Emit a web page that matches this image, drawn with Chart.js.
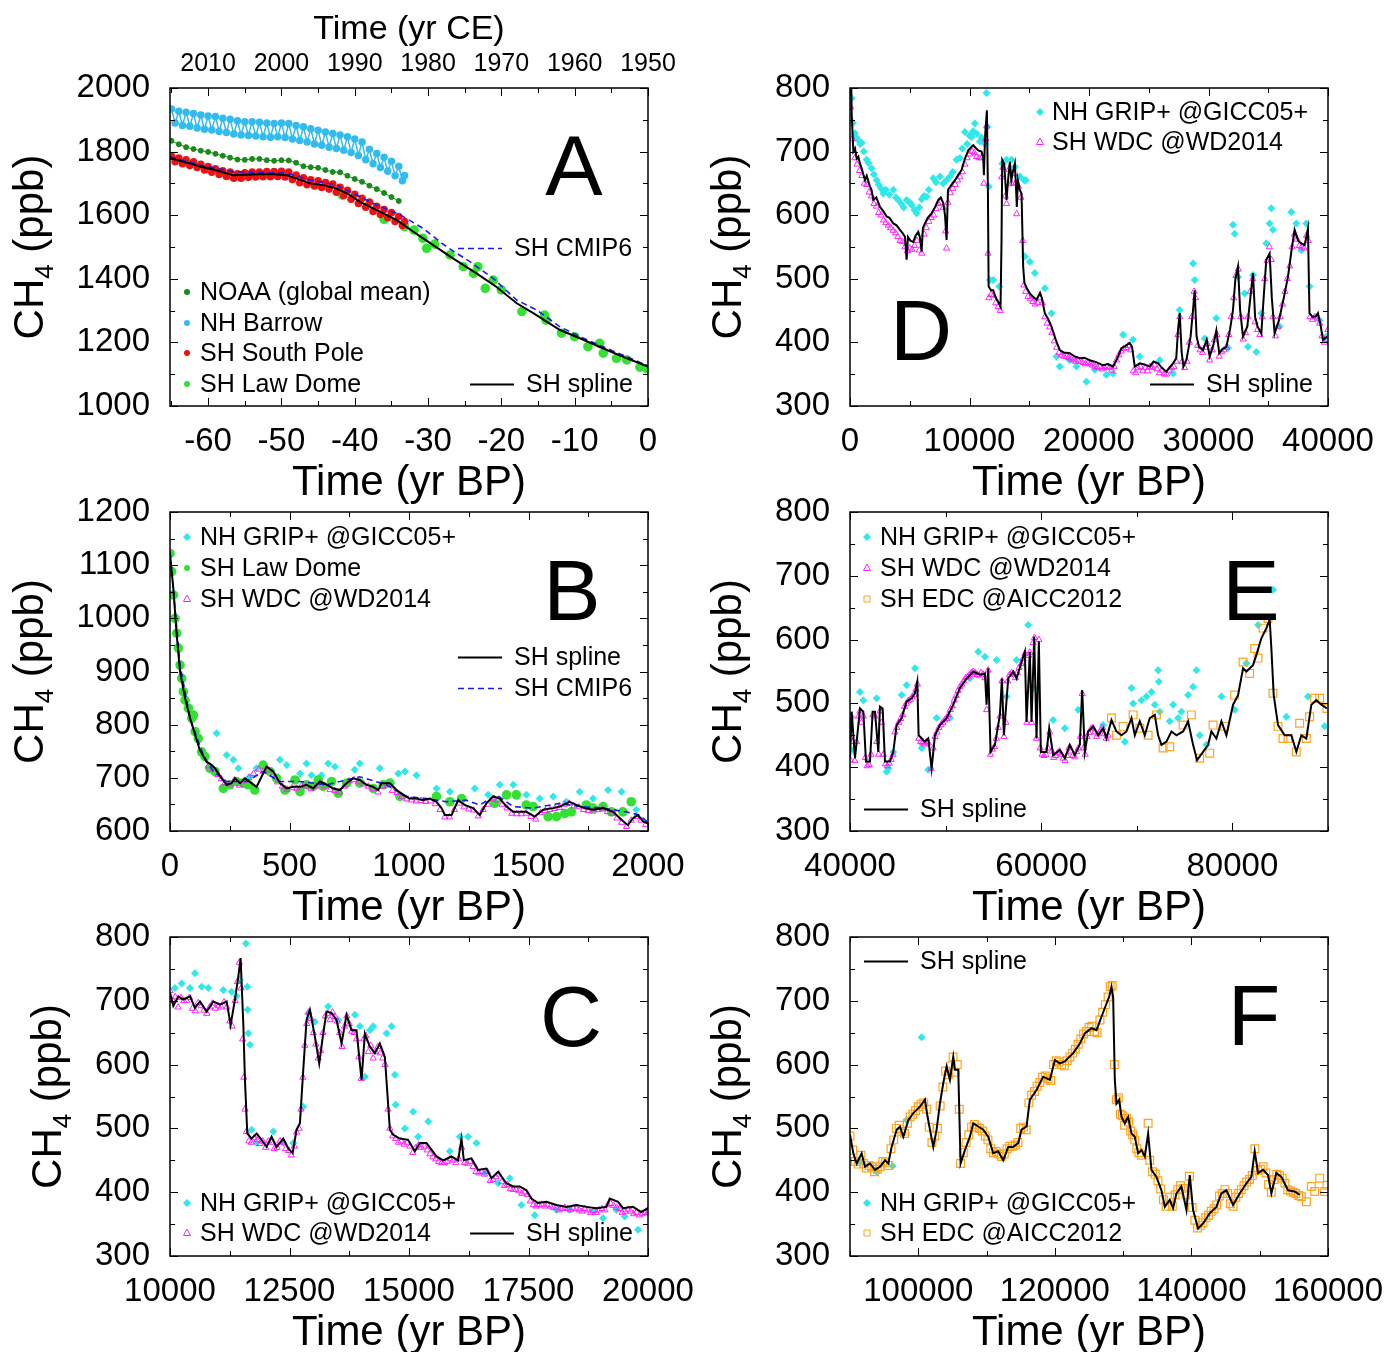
<!DOCTYPE html>
<html>
<head>
<meta charset="utf-8">
<script src="https://cdn.jsdelivr.net/npm/chart.js@4.4.0/dist/chart.umd.min.js"></script>
<style>
  html, body { margin: 0; padding: 0; background: #fff; }
  #page { position: relative; width: 1386px; height: 1352px; overflow: hidden; background: #fff; }
</style>
</head>
<body>
<div id="page"></div>
<script>
// ---- PANEL A (recent, yr BP, negative = after 1950) ----
const aNoaa = [[-34,1645],[-35,1657],[-36,1670],[-37,1682],[-38,1693],[-39,1705],[-40,1714],[-41,1724],[-42,1735],[-43,1736],[-44,1742],[-45,1749],[-46,1751],[-47,1754],[-48,1765],[-49,1772],[-50,1773],[-51,1771],[-52,1773],[-53,1777],[-54,1777],[-55,1774],[-56,1775],[-57,1781],[-58,1787],[-59,1793],[-60,1799],[-61,1803],[-62,1808],[-63,1814],[-64,1823],[-65,1834]];
const aBarrow = [[-65,1934],[-64.5,1890],[-64,1927],[-63.5,1882],[-63,1924],[-62.5,1880],[-62,1920],[-61.5,1874],[-61,1915],[-60.5,1870],[-60,1912],[-59.5,1868],[-59,1910],[-58.5,1863],[-58,1905],[-57.5,1860],[-57,1902],[-56.5,1855],[-56,1897],[-55.5,1852],[-55,1894],[-54.5,1851],[-54,1894],[-53.5,1849],[-53,1892],[-52.5,1847],[-52,1890],[-51.5,1845],[-51,1888],[-50.5,1847],[-50,1890],[-49.5,1844],[-49,1888],[-48.5,1840],[-48,1882],[-47.5,1835],[-47,1878],[-46.5,1830],[-46,1872],[-45.5,1824],[-45,1867],[-44.5,1820],[-44,1862],[-43.5,1814],[-43,1857],[-42.5,1810],[-42,1852],[-41.5,1804],[-41,1847],[-40.5,1797],[-40,1840],[-39.5,1788],[-39,1830],[-38.5,1774],[-38,1807],[-37.5,1762],[-37,1794],[-36.5,1750],[-36,1782],[-35.5,1738],[-35,1770],[-34.5,1724],[-34,1754],[-33.5,1708],[-33.2,1725]];
const aSouthPole = [[-65,1786],[-64.5,1768],[-64,1780],[-63.5,1762],[-63,1774],[-62.5,1756],[-62,1768],[-61.5,1750],[-61,1760],[-60.5,1742],[-60,1753],[-59.5,1735],[-59,1746],[-58.5,1728],[-58,1740],[-57.5,1722],[-57,1736],[-56.5,1716],[-56,1730],[-55.5,1716],[-55,1733],[-54.5,1719],[-54,1736],[-53.5,1720],[-53,1736],[-52.5,1721],[-52,1737],[-51.5,1721],[-51,1737],[-50.5,1722],[-50,1738],[-49.5,1720],[-49,1736],[-48.5,1712],[-48,1726],[-47.5,1702],[-47,1718],[-46.5,1696],[-46,1711],[-45.5,1692],[-45,1708],[-44.5,1687],[-44,1703],[-43.5,1682],[-43,1698],[-42.5,1672],[-42,1688],[-41.5,1662],[-41,1678],[-40.5,1650],[-40,1666],[-39.5,1637],[-39,1653],[-38.5,1625],[-38,1641],[-37.5,1612],[-37,1628],[-36.5,1602],[-36,1618],[-35.5,1592],[-35,1608],[-34.5,1580],[-34,1596],[-33.5,1568],[-33.2,1580]];
const aLawDome = [[-41.7,1663],[-36.0,1587],[-33.2,1564],[-31.9,1553],[-30.7,1527],[-30.2,1496],[-29.1,1509],[-27.0,1475],[-25.2,1438],[-23.8,1417],[-23.2,1438],[-22.2,1370],[-21.1,1396],[-20.0,1365],[-17.2,1297],[-14.1,1286],[-13.9,1270],[-11.8,1229],[-10.0,1218],[-8.2,1187],[-6.6,1197],[-6.1,1166],[-4.3,1150],[-2.9,1145],[-1.1,1122],[-0.1,1117]];
const aSpline = [[-65.2,1779],[-63,1766],[-61.1,1753],[-59,1742],[-56.6,1726],[-55,1727],[-52.9,1729],[-51,1729],[-49.3,1726],[-47.5,1712],[-46.1,1700],[-44,1693],[-42.5,1684],[-41,1668],[-39.3,1643],[-37,1616],[-34.3,1585],[-32,1548],[-29.3,1506],[-26.6,1464],[-23.4,1417],[-20.7,1375],[-17.9,1323],[-15.6,1291],[-12,1239],[-9.3,1213],[-5.6,1176],[-2.9,1150],[0,1124]];
const aCmip6 = [[-65.2,1784],[-61.1,1758],[-56.6,1737],[-49.3,1732],[-46.1,1711],[-42.5,1695],[-37,1632],[-33.8,1601],[-30.7,1559],[-27.5,1501],[-24.3,1454],[-21.1,1401],[-17.9,1333],[-15.2,1302],[-12,1249],[-9.3,1218],[-5.6,1181],[-2.9,1155],[0,1126]];

// ---- PANEL B (0-2000 yr BP) ----
const bSpline = [[0,1122],[14,1056],[28,969],[42,900],[63,850],[84,812],[105,781],[125,752],[153,730],[167,727],[188,718],[216,699],[237,687],[258,690],[272,699],[293,690],[314,699],[341,690],[362,683],[383,702],[404,721],[432,712],[460,690],[488,680],[516,683],[544,683],[571,687],[599,680],[627,693],[655,687],[683,680],[711,677],[739,690],[766,699],[794,696],[822,687],[850,683],[871,677],[885,690],[920,690],[948,677],[976,668],[1003,661],[1031,661],[1059,658],[1087,661],[1115,655],[1136,643],[1150,630],[1178,630],[1206,658],[1233,649],[1268,643],[1296,630],[1324,652],[1352,665],[1380,661],[1408,646],[1436,636],[1463,636],[1491,636],[1526,627],[1561,640],[1603,643],[1631,646],[1672,655],[1700,649],[1735,643],[1770,640],[1812,643],[1854,636],[1889,621],[1916,611],[1937,624],[1958,630],[1979,618],[2000,614]];
const bCmip6 = [[0,1125],[42,912],[84,812],[139,743],[181,712],[237,693],[321,693],[390,712],[460,693],[544,693],[655,687],[794,702],[906,687],[990,665],[1073,661],[1157,655],[1240,658],[1296,649],[1366,668],[1436,646],[1519,643],[1631,652],[1714,646],[1812,643],[1909,636],[1965,630],[2000,616]];
const bLawDome = [[0,1122],[7,1088],[14,1044],[21,1000],[28,972],[35,944],[42,912],[49,887],[56,862],[63,846],[77,831],[91,812],[98,818],[105,787],[118,774],[132,749],[146,740],[167,718],[188,712],[223,680],[251,687],[279,693],[307,690],[328,687],[355,677],[390,724],[418,712],[446,699],[481,677],[523,696],[544,674],[571,687],[599,684],[620,696],[641,684],[676,693],[704,671],[739,690],[794,690],[850,680],[892,687],[920,690],[962,665],[1115,665],[1171,655],[1220,661],[1359,652],[1408,668],[1449,668],[1491,649],[1519,646],[1582,627],[1617,627],[1652,633],[1679,636],[1742,649],[1770,643],[1812,646],[1847,636],[1895,636],[1930,655]];
const bGrip = [[195,784],[237,743],[265,734],[286,718],[334,702],[362,718],[460,734],[488,724],[544,708],[571,727],[592,705],[634,705],[662,727],[690,721],[773,715],[794,727],[878,718],[955,708],[983,712],[1031,705],[1115,680],[1171,674],[1275,680],[1331,668],[1380,687],[1436,687],[1491,668],[1547,661],[1603,665],[1658,655],[1714,674],[1770,661],[1833,677],[1889,674],[1951,640]];
const bWdc = [[160,722],[180,716],[200,706],[215,698],[230,690],[250,688],[270,696],[290,686],[310,694],[330,700],[350,708],[370,716],[390,712],[410,715],[430,706],[450,692],[470,684],[490,678],[510,681],[530,680],[550,685],[570,684],[590,679],[610,684],[630,690],[650,684],[670,678],[690,676],[710,673],[730,684],[750,694],[770,696],[790,692],[810,688],[830,684],[850,679],[870,673],[890,684],[910,686],[930,676],[950,672],[970,664],[990,660],[1010,658],[1030,656],[1050,657],[1070,655],[1090,656],[1110,651],[1130,640],[1150,626],[1170,626],[1190,640],[1210,652],[1230,645],[1250,641],[1270,639],[1290,628],[1310,640],[1330,650],[1350,660],[1370,658],[1390,650],[1410,643],[1430,633],[1450,632],[1470,632],[1490,633],[1510,627],[1530,622],[1550,634],[1570,638],[1590,640],[1610,642],[1630,644],[1650,650],[1670,652],[1690,647],[1710,645],[1730,640],[1750,638],[1770,637],[1790,640],[1810,641],[1830,636],[1850,633],[1870,624],[1890,616],[1910,608],[1930,620],[1950,627],[1970,620],[1990,612]];

// ---- PANEL C (10000-20000 yr BP) ----
const cSpline = [[10000,713],[10070,692],[10174,707],[10279,702],[10418,707],[10523,689],[10627,699],[10767,683],[10906,699],[11045,694],[11185,699],[11268,662],[11359,702],[11429,738],[11477,767],[11533,665],[11568,576],[11617,492],[11707,484],[11812,492],[11916,482],[12021,471],[12125,487],[12230,471],[12369,484],[12474,469],[12565,461],[12648,498],[12718,508],[12788,592],[12857,670],[12927,686],[13031,644],[13122,602],[13206,649],[13275,683],[13380,681],[13484,670],[13589,633],[13693,678],[13798,654],[13902,654],[14007,576],[14077,649],[14181,628],[14286,618],[14390,633],[14495,612],[14600,498],[14669,490],[14809,484],[14983,482],[15122,464],[15227,477],[15366,477],[15575,456],[15715,450],[15889,456],[16028,450],[16098,484],[16147,450],[16307,453],[16446,435],[16620,437],[16725,422],[16864,432],[17038,414],[17178,409],[17317,409],[17457,403],[17561,390],[17701,383],[17875,385],[18084,380],[18293,377],[18502,380],[18711,377],[18920,375],[19129,377],[19199,390],[19373,385],[19478,375],[19687,377],[19861,369],[20000,375]];
const cGrip = [[10105,720],[10244,727],[10418,720],[10523,743],[10662,722],[10801,720],[11115,717],[11289,714],[11394,707],[11463,733],[11589,790],[11617,722],[11624,686],[11638,649],[11673,631],[11707,498],[11812,477],[12160,495],[12369,477],[12579,477],[12788,534],[12892,680],[13031,667],[13310,691],[13519,670],[13868,678],[13972,660],[14077,581],[14181,654],[14251,660],[14530,649],[14635,660],[14704,584],[14720,537],[14913,500],[15087,526],[15192,487],[15401,511],[15854,464],[16063,487],[16237,487],[16411,477],[16586,430],[16864,414],[17108,422],[17352,380],[17631,364],[18084,372],[18363,372],[18851,369],[19060,359],[19339,372],[19513,362],[19792,341],[19999,372]];
const cWdc = [[10000,716],[10060,700],[10110,706],[10170,690],[10230,705],[10290,700],[10350,700],[10410,705],[10470,688],[10530,684],[10590,697],[10650,692],[10710,685],[10770,680],[10830,690],[10890,696],[10950,688],[11010,692],[11070,690],[11130,698],[11190,690],[11250,668],[11300,660],[11360,700],[11410,730],[11450,760],[11490,720],[11520,640],[11545,580],[11570,530],[11600,495],[11650,480],[11700,478],[11760,485],[11820,482],[11880,476],[11940,480],[12000,470],[12060,480],[12120,478],[12180,468],[12240,470],[12300,480],[12360,478],[12420,468],[12480,465],[12540,458],[12600,472],[12650,494],[12700,500],[12740,530],[12780,580],[12820,630],[12860,664],[12900,682],[12950,672],[13000,650],[13050,632],[13100,610],[13150,622],[13200,650],[13250,676],[13300,680],[13350,670],[13400,682],[13450,675],[13500,668],[13550,650],[13600,628],[13650,660],[13700,676],[13750,664],[13800,652],[13850,650],[13900,640],[13950,612],[14000,578],[14050,640],[14100,645],[14150,620],[14200,630],[14250,610],[14300,620],[14350,628],[14400,618],[14450,610],[14500,600],[14560,530],[14600,500],[14660,488],[14720,484],[14780,478],[14840,480],[14900,475],[14960,478],[15020,472],[15080,462],[15140,470],[15200,474],[15260,470],[15320,472],[15380,466],[15440,460],[15500,455],[15560,452],[15620,448],[15680,446],[15740,446],[15800,448],[15860,452],[15920,450],[15980,446],[16040,452],[16100,470],[16160,446],[16220,445],[16280,448],[16340,440],[16400,432],[16460,430],[16520,432],[16580,428],[16640,432],[16700,418],[16760,420],[16820,424],[16880,428],[16940,416],[17000,410],[17060,412],[17120,405],[17180,404],[17240,404],[17300,402],[17360,398],[17420,400],[17480,396],[17540,386],[17600,380],[17660,378],[17720,380],[17780,381],[17840,378],[17900,380],[17960,378],[18020,376],[18080,376],[18140,372],[18200,374],[18260,376],[18320,374],[18380,372],[18440,375],[18500,374],[18560,372],[18620,370],[18680,374],[18740,372],[18800,368],[18860,371],[18920,368],[18980,372],[19040,374],[19100,372],[19160,380],[19220,382],[19280,379],[19340,376],[19400,374],[19460,368],[19520,370],[19580,373],[19640,370],[19700,366],[19760,368],[19820,364],[19880,366],[19940,368],[20000,369]];

// ---- PANEL D (0-40000 yr BP) ----
const dSpline = [[0,1120],[40,980],[80,860],[140,760],[280,700],[420,705],[560,689],[700,692],[836,681],[1000,672],[1254,655],[1400,662],[1672,645],[1800,640],[1950,624],[2200,628],[2508,613],[2800,606],[3066,598],[3300,596],[3623,587],[3900,584],[4180,577],[4400,572],[4600,566],[4738,530],[4850,566],[5050,560],[5295,558],[5500,568],[5713,574],[5850,565],[5992,543],[6100,580],[6271,587],[6500,596],[6828,603],[7100,612],[7386,624],[7600,628],[7804,619],[7950,600],[8082,561],[8200,640],[8500,648],[8779,655],[9050,663],[9336,671],[9600,688],[9894,702],[10100,706],[10312,710],[10500,706],[10730,702],[11009,700],[11150,690],[11204,663],[11300,723],[11455,765],[11540,640],[11600,488],[11800,482],[11984,482],[12200,470],[12402,464],[12597,456],[12680,560],[12737,687],[12900,681],[13100,624],[13250,660],[13378,684],[13500,655],[13650,670],[13796,681],[13900,640],[13960,613],[14050,655],[14200,640],[14353,634],[14420,580],[14492,519],[14600,493],[14800,485],[15050,477],[15300,472],[15607,467],[15900,478],[16050,470],[16304,446],[16600,436],[16861,425],[17200,405],[17558,388],[17900,384],[18394,383],[18800,378],[19230,375],[19600,376],[20066,372],[20600,369],[21181,364],[21600,366],[22017,362],[22400,376],[22714,391],[23100,395],[23411,399],[23600,393],[23829,362],[24247,367],[24700,365],[25083,362],[25400,370],[25780,367],[26100,360],[26477,354],[26800,362],[27034,367],[27300,375],[27450,420],[27591,446],[27750,385],[27900,362],[28149,372],[28500,409],[28700,450],[28846,482],[29000,410],[29200,393],[29542,388],[29850,404],[30100,378],[30400,395],[30657,419],[30900,383],[31200,390],[31493,393],[31800,420],[32050,451],[32250,500],[32468,519],[32650,450],[32886,409],[33250,425],[33500,470],[33722,509],[33900,440],[34100,425],[34419,414],[34650,480],[34837,530],[35116,540],[35300,470],[35534,414],[35900,435],[36300,470],[36649,503],[36950,545],[37206,577],[37500,560],[37750,556],[38043,553],[38322,579],[38450,446],[38700,440],[39000,441],[39158,446],[39400,425],[39576,404],[39910,409]];
const dGrip = [[139,784],[250,745],[418,729],[550,722],[697,718],[850,712],[976,714],[1150,700],[1394,687],[1550,682],[1812,674],[2000,664],[2230,655],[2400,648],[2600,642],[2787,634],[3000,640],[3300,632],[3623,640],[3850,628],[4041,624],[4300,618],[4500,612],[4738,624],[5000,620],[5156,616],[5400,608],[5574,603],[5800,612],[6000,625],[6200,630],[6410,629],[6600,640],[6967,658],[7200,652],[7525,661],[7800,650],[8082,655],[8361,661],[8600,668],[8918,687],[9200,690],[9400,705],[9615,731],[9800,712],[10000,725],[10173,723],[10300,732],[10451,744],[10600,728],[10869,716],[11000,722],[11148,718],[11300,712],[11427,792],[11483,739],[11622,645],[11705,498],[11984,498],[12486,488],[12737,681],[13100,687],[13517,687],[13796,676],[14214,661],[14576,655],[14715,655],[14632,535],[15050,527],[15468,509],[16304,485],[16861,446],[17279,378],[17558,362],[18394,372],[18951,362],[19787,338],[20484,357],[21460,349],[22017,351],[22853,412],[23689,404],[24247,378],[25919,372],[27034,351],[27591,451],[28706,524],[28846,498],[29682,406],[30657,438],[31632,391],[32050,585],[32189,571],[32468,503],[33025,477],[33304,393],[33722,506],[33999,385],[34419,446],[34837,556],[35116,587],[35255,611],[35395,577],[35952,425],[36928,605],[37346,587],[37764,545],[38183,587],[38461,488],[39297,435],[39855,409]];
const dWdc = [[50,770],[200,720],[400,690],[600,680],[800,670],[1000,662],[1200,650],[1400,648],[1600,636],[1800,630],[2000,618],[2200,614],[2400,604],[2600,600],[2800,592],[3000,588],[3200,584],[3400,580],[3600,576],[3800,572],[4000,566],[4200,560],[4400,558],[4600,550],[4800,544],[5000,548],[5200,546],[5400,552],[5600,560],[5800,545],[6000,540],[6200,570],[6400,580],[6600,590],[6800,596],[7000,600],[7200,610],[7400,618],[7600,620],[7800,612],[8000,575],[8080,548],[8200,620],[8400,635],[8600,642],[8800,648],[9000,655],[9200,660],[9400,668],[9600,680],[9800,690],[10000,696],[10200,700],[10400,698],[10600,692],[10800,690],[11000,690],[11200,650],[11350,720],[11450,740],[11550,540],[11620,470],[11800,475],[12000,474],[12200,462],[12400,456],[12580,450],[12700,660],[12800,675],[13000,630],[13100,618],[13300,672],[13500,650],[13700,665],[13850,650],[13950,602],[14100,645],[14300,628],[14450,560],[14550,490],[14700,480],[14900,472],[15100,468],[15300,464],[15500,460],[15700,462],[15900,470],[16100,462],[16300,440],[16500,430],[16700,424],[16900,415],[17100,402],[17300,392],[17500,384],[17700,380],[17900,378],[18100,378],[18300,376],[18500,374],[18700,372],[18900,370],[19100,372],[19300,370],[19500,368],[19700,366],[19900,368],[20100,366],[20300,364],[20500,362],[20700,360],[20900,362],[21100,358],[21300,360],[21500,362],[21700,360],[21900,356],[22100,362],[22300,372],[22500,380],[22700,386],[22900,390],[23100,392],[23300,395],[23500,388],[23700,355],[23900,352],[24100,360],[24300,362],[24500,355],[24700,360],[24900,355],[25100,362],[25300,360],[25500,364],[25700,358],[25900,352],[26100,356],[26300,350],[26500,350],[26700,356],[26900,360],[27100,362],[27300,370],[27450,412],[27600,440],[27800,370],[28000,360],[28200,370],[28400,400],[28600,440],[28800,480],[28900,470],[29100,395],[29300,388],[29500,384],[29700,392],[29900,398],[30100,372],[30300,388],[30500,404],[30700,412],[30900,378],[31100,385],[31300,388],[31500,392],[31700,412],[31900,440],[32100,470],[32300,505],[32500,515],[32700,440],[32900,405],[33100,415],[33300,440],[33500,480],[33700,500],[33900,432],[34100,420],[34300,412],[34500,440],[34700,500],[34900,528],[35100,550],[35250,530],[35400,440],[35600,410],[35800,425],[36000,440],[36200,460],[36400,480],[36600,500],[36800,520],[37000,550],[37200,570],[37400,562],[37600,552],[37800,550],[38000,548],[38200,568],[38350,560],[38500,440],[38700,436],[38900,440],[39100,438],[39300,430],[39500,410],[39700,400],[39900,404],[40000,420]];

// ---- PANEL E (40000-90000 yr BP) ----
const eSpline = [[40000,414],[40174,487],[40523,414],[41045,492],[41394,487],[41672,409],[42090,409],[42369,487],[42613,487],[42961,424],[43136,495],[43414,492],[43658,409],[44181,409],[44529,424],[44878,466],[45400,477],[45923,503],[46446,508],[46794,516],[47038,534],[47178,450],[47839,440],[48188,445],[48536,398],[48885,450],[49407,466],[50104,477],[50801,498],[51498,524],[52195,539],[52892,550],[53589,545],[54112,547],[54286,498],[54460,555],[54704,424],[55157,435],[55680,482],[55889,539],[56097,450],[56549,539],[57072,550],[57421,539],[57943,565],[58292,581],[58466,471],[58814,581],[58989,471],[59267,605],[59511,445],[59755,597],[59964,424],[60557,424],[60836,461],[61254,419],[61951,427],[62473,414],[62996,435],[63519,419],[64041,435],[64285,521],[64564,424],[64913,456],[65435,464],[65958,450],[66480,461],[66829,445],[67352,474],[67874,456],[68397,450],[68920,456],[69442,477],[69791,450],[70314,472],[70836,450],[71359,477],[71882,482],[72230,450],[72578,435],[73101,440],[73624,456],[74146,450],[74843,456],[75366,472],[75888,435],[76306,411],[76934,424],[77457,435],[77805,456],[78328,445],[78851,472],[79373,450],[80070,498],[80592,513],[81115,555],[81463,550],[82160,560],[82508,576],[83031,602],[83554,618],[83902,631],[84077,586],[84321,513],[84774,466],[85470,450],[86167,450],[86690,424],[87212,450],[87735,445],[88258,498],[88780,505],[89303,498],[89896,492]];
const eGrip = [[40348,427],[41045,518],[41394,505],[42788,508],[43833,393],[44007,398],[44529,424],[45400,513],[45923,529],[46794,555],[47491,430],[48188,396],[49059,477],[50452,477],[52544,539],[53415,581],[54112,573],[55331,568],[56375,511],[57421,568],[58640,623],[59162,524],[61254,474],[62473,461],[63868,490],[66480,466],[68745,440],[69442,524],[69617,500],[70488,505],[71010,511],[71533,518],[71882,498],[72230,552],[72300,534],[72404,487],[73449,472],[73798,498],[74320,477],[74669,487],[75366,513],[75888,526],[76236,552],[76585,450],[77282,435],[78851,511],[80244,490],[81463,563],[82683,623],[84251,678],[85645,479],[87909,511],[89652,464]];
const eWdc = [[40000,412],[40150,480],[40300,440],[40500,410],[40700,440],[40900,480],[41050,488],[41200,470],[41400,480],[41600,415],[41800,402],[42000,404],[42200,420],[42400,482],[42600,480],[42800,440],[43000,420],[43150,488],[43300,470],[43500,420],[43700,405],[43900,402],[44100,406],[44300,412],[44500,420],[44700,455],[44900,462],[45100,470],[45300,476],[45500,482],[45700,495],[45900,500],[46100,504],[46300,506],[46500,510],[46700,514],[46900,522],[47050,530],[47200,445],[47400,440],[47600,438],[47800,436],[48000,440],[48200,438],[48500,398],[48700,430],[48900,448],[49100,455],[49300,462],[49500,466],[49700,470],[49900,474],[50100,476],[50300,482],[50500,490],[50700,496],[50900,505],[51100,512],[51300,520],[51500,526],[51700,530],[51900,535],[52100,540],[52300,542],[52500,545],[52700,548],[52900,550],[53100,548],[53300,545],[53500,544],[53700,548],[53900,546],[54100,540],[54300,490],[54450,552],[54700,420],[54900,428],[55100,432],[55300,445],[55500,462],[55700,480],[55900,535],[56100,448],[56300,470],[56500,535],[56700,545],[56900,548],[57100,546],[57300,540],[57500,548],[57700,556],[57900,562],[58100,570],[58300,578],[58500,470],[58700,575],[58800,580],[59000,470],[59150,595],[59300,603],[59500,445],[59750,600],[59900,430],[60100,420],[60300,418],[60500,420],[60700,430],[60900,455],[61100,425],[61300,415],[61500,418],[61700,422],[61900,425],[62100,420],[62300,414],[62500,410],[62700,418],[62900,430],[63100,425],[63300,418],[63500,416],[63700,424],[63900,430],[64100,448],[64285,515],[64450,430],[64600,420],[64800,448],[65000,454],[65200,460],[65400,462],[65600,455],[65800,448],[66000,452],[66200,458],[66400,462],[66600,452],[66800,445],[67000,450]];
const eEdc = [[67349,477],[67872,450],[68569,464],[69614,482],[70311,461],[71182,450],[72053,482],[72750,430],[73446,432],[74840,466],[75711,482],[76582,414],[77627,422],[77976,466],[79195,464],[80240,513],[81111,565],[81808,547],[82331,586],[82679,571],[83202,618],[83724,633],[84247,516],[84770,464],[85292,445],[85815,445],[86686,424],[87034,469],[87730,445],[88079,479],[88602,508],[89124,508],[89891,492]];

// ---- PANEL F (90000-160000 yr BP) ----
const fSpline = [[90000,490],[90488,461],[90976,445],[91707,461],[92195,440],[92927,445],[93659,435],[94390,440],[95122,450],[95610,445],[96098,471],[96829,498],[97317,503],[97805,487],[98537,513],[99268,524],[100244,534],[100976,545],[101317,521],[101707,498],[102195,471],[102683,498],[103171,539],[103659,571],[104146,597],[104634,576],[105122,612],[105366,592],[105854,592],[106195,445],[106829,466],[107561,487],[108049,508],[108780,503],[109512,498],[110244,487],[110976,461],[111707,464],[112439,450],[113171,471],[113902,471],[114634,477],[115122,498],[115854,503],[116341,545],[117317,560],[117805,571],[118293,581],[119268,576],[120000,607],[120732,602],[121463,605],[122683,618],[123659,633],[124390,649],[125366,657],[126098,654],[126829,675],[127463,693],[127951,706],[128293,722],[128537,706],[128780,576],[129024,539],[129415,545],[129756,518],[130244,508],[130732,518],[131220,492],[131707,487],[132195,461],[132683,466],[133171,456],[133659,492],[134146,435],[134878,424],[135610,403],[136098,377],[136829,388],[137317,375],[137805,398],[138537,409],[139268,372],[139756,427],[140244,372],[140976,343],[141707,351],[142683,367],[143659,377],[144390,398],[145122,403],[146098,380],[147073,398],[148049,414],[148780,424],[149268,464],[149756,430],[150488,435],[151220,427],[151707,398],[152439,430],[153171,424],[154146,403],[155122,401],[155854,396]];
const fEdc = [[90000,488],[90400,466],[90800,448],[91200,444],[91600,458],[92000,445],[92400,438],[92800,442],[93200,440],[93600,432],[94000,436],[94400,440],[94800,448],[95200,446],[95600,442],[96000,468],[96400,482],[96800,500],[97200,505],[97600,495],[98000,492],[98400,508],[98800,518],[99200,522],[99600,528],[100000,534],[100400,538],[100800,540],[101200,530],[101600,502],[102000,478],[102400,488],[102800,500],[103200,535],[103600,565],[104000,590],[104400,584],[104800,598],[105100,612],[105400,588],[105700,600],[106000,530],[106200,445],[106600,462],[107000,478],[107400,490],[107800,502],[108200,506],[108600,502],[109000,500],[109400,496],[109800,488],[110200,482],[110600,468],[111000,462],[111400,464],[111800,460],[112200,456],[112600,460],[113000,468],[113400,472],[113800,472],[114200,474],[114600,478],[115000,500],[115400,502],[115800,498],[116200,540],[116600,552],[117000,558],[117400,566],[117800,572],[118200,580],[118600,582],[119000,578],[119400,575],[119800,600],[120200,606],[120600,604],[121000,600],[121400,598],[121800,606],[122200,612],[122600,618],[123000,624],[123400,632],[123800,640],[124200,648],[124600,652],[125000,658],[125400,660],[125800,652],[126200,650],[126600,670],[127000,682],[127400,694],[127800,706],[128100,722],[128400,724],[128700,600],[129000,545],[129300,548],[129600,522],[129900,520],[130200,505],[130500,516],[130800,510],[131100,496],[131400,490],[131700,482],[132000,468],[132300,462],[132700,458],[133660,508],[133900,450],[134300,432],[134700,428],[135100,418],[135500,405],[135900,388],[136300,378],[136800,392],[137200,378],[137600,396],[138000,404],[138400,410],[138800,406],[139200,396],[139700,425],[140100,376],[140500,356],[140900,344],[141300,348],[141700,352],[142100,360],[142500,364],[142900,370],[143300,374],[143700,380],[144100,394],[144500,398],[144900,404],[145300,398],[145700,382],[146100,378],[146500,392],[146900,398],[147300,404],[147700,410],[148100,416],[148500,420],[148900,426],[149300,468],[149700,434],[150100,436],[150500,440],[150900,430],[151300,412],[151700,400],[152100,420],[152500,428],[152900,426],[153300,422],[153700,414],[154100,404],[154500,402],[154900,400],[155300,398],[155700,395],[156100,393],[156830,385],[157560,409],[158050,401],[158780,422],[159510,401],[159850,411]];
const fGrip = [[91460,447],[93900,432],[96240,441],[98290,513],[100490,643]];

const FONT = '"Liberation Sans", Arial, Helvetica, sans-serif';

// dataset styles
const sty = {
  spline: { showLine: true, borderColor: '#000', borderWidth: 2, pointRadius: 0 },
  cmip6: { showLine: true, borderColor: '#1a1aee', borderWidth: 1.6, borderDash: [6, 4], pointRadius: 0 },
  grip: { pointStyle: 'rectRot', pointRadius: 4, backgroundColor: '#2ee8ea', borderWidth: 0 },
  wdc: { pointStyle: 'triangle', pointRadius: 3.6, backgroundColor: 'rgba(0,0,0,0)', borderColor: '#ff22ff', borderWidth: 1 },
  edc: { pointStyle: 'rect', pointRadius: 5.5, backgroundColor: 'rgba(0,0,0,0)', borderColor: '#ffa41c', borderWidth: 1.2 },
  law: { pointStyle: 'circle', pointRadius: 4.8, backgroundColor: '#33e033', borderWidth: 0 },
  noaa: { showLine: true, borderColor: '#1a8a1a', borderWidth: 1, pointRadius: 2.5, backgroundColor: '#1a8a1a' },
  barrow: { showLine: true, borderColor: '#33bbf0', borderWidth: 1.5, pointStyle: 'circle', pointRadius: 3, backgroundColor: '#33bbf0' },
  pole: { pointStyle: 'circle', pointRadius: 3.8, backgroundColor: '#ee1111', borderWidth: 0 }
};
const ds = (data, s) => Object.assign({ data: data, xAxisID: 'x', yAxisID: 'y' }, sty[s]);

function isMajor(v, major) {
  const r = v / major;
  return Math.abs(r - Math.round(r)) < 1e-6;
}

function drawMarker(ctx, shape, color, x, y) {
  ctx.save();
  ctx.beginPath();
  if (shape === 'circle') {
    ctx.arc(x, y, 3, 0, Math.PI * 2);
    ctx.fillStyle = color; ctx.fill();
  } else if (shape === 'diamond') {
    ctx.moveTo(x, y - 4); ctx.lineTo(x + 4, y); ctx.lineTo(x, y + 4); ctx.lineTo(x - 4, y); ctx.closePath();
    ctx.fillStyle = color; ctx.fill();
  } else if (shape === 'triangle') {
    ctx.moveTo(x, y - 4); ctx.lineTo(x + 3.5, y + 2.5); ctx.lineTo(x - 3.5, y + 2.5); ctx.closePath();
    ctx.strokeStyle = color; ctx.lineWidth = 1; ctx.stroke();
  } else if (shape === 'square') {
    ctx.rect(x - 3, y - 3, 6, 6);
    ctx.strokeStyle = color; ctx.lineWidth = 1; ctx.stroke();
  }
  ctx.restore();
}

// frame, inward ticks, titles, legend and panel letter
function deco(p) {
  return {
    id: 'deco',
    afterDraw(chart) {
      const { ctx, chartArea: a, scales } = chart;
      ctx.save();
      ctx.strokeStyle = '#000';
      ctx.lineWidth = 1;
      ctx.beginPath();
      scales.x.ticks.forEach(t => {
        const px = Math.round(scales.x.getPixelForValue(t.value)) + 0.5;
        const len = t.label ? 8 : 5;
        ctx.moveTo(px, a.bottom); ctx.lineTo(px, a.bottom - len);
        ctx.moveTo(px, a.top); ctx.lineTo(px, a.top + len);
      });
      scales.y.ticks.forEach(t => {
        const py = Math.round(scales.y.getPixelForValue(t.value)) + 0.5;
        const len = t.label ? 8 : 5;
        ctx.moveTo(a.left, py); ctx.lineTo(a.left + len, py);
        ctx.moveTo(a.right, py); ctx.lineTo(a.right - len, py);
      });
      ctx.stroke();
      ctx.lineWidth = 1.5;
      ctx.strokeRect(a.left, a.top, a.right - a.left, a.bottom - a.top);

      ctx.fillStyle = '#000';
      ctx.textBaseline = 'alphabetic';
      ctx.textAlign = 'center';
      ctx.font = '42px ' + FONT;
      ctx.fillText('Time (yr BP)', (a.left + a.right) / 2, a.bottom + 89);
      if (p.top) {
        ctx.font = '34px ' + FONT;
        ctx.fillText('Time (yr CE)', (a.left + a.right) / 2, a.top - 49);
      }

      // y title with subscript
      ctx.save();
      ctx.translate(a.left + p.yTitleDx, (a.top + a.bottom) / 2);
      ctx.rotate(-Math.PI / 2);
      ctx.textAlign = 'left';
      ctx.font = '42px ' + FONT;
      const w1 = ctx.measureText('CH').width;
      const w3 = ctx.measureText(' (ppb)').width;
      ctx.font = '26px ' + FONT;
      const w2 = ctx.measureText('4').width;
      const x0 = -(w1 + w2 + w3) / 2;
      ctx.font = '42px ' + FONT;
      ctx.fillText('CH', x0, 0);
      ctx.font = '26px ' + FONT;
      ctx.fillText('4', x0 + w1, 10);
      ctx.font = '42px ' + FONT;
      ctx.fillText(' (ppb)', x0 + w1 + w2, 0);
      ctx.restore();

      // panel letter
      ctx.font = '86px ' + FONT;
      ctx.textAlign = 'center';
      ctx.fillText(p.letter[0], a.left + p.letter[1], a.top + p.letter[2]);

      // legend
      ctx.font = '25px ' + FONT;
      ctx.textAlign = 'left';
      ctx.textBaseline = 'middle';
      p.legend.forEach(it => {
        if (it.shape) {
          drawMarker(ctx, it.shape, it.color, a.left + it.x, a.top + it.y);
        } else {
          ctx.save();
          ctx.beginPath();
          ctx.strokeStyle = it.color;
          ctx.lineWidth = it.dash ? 1.6 : 2;
          ctx.setLineDash(it.dash || []);
          ctx.moveTo(a.left + it.x1, a.top + it.y + 0.5);
          ctx.lineTo(a.left + it.x2, a.top + it.y + 0.5);
          ctx.stroke();
          ctx.restore();
        }
        ctx.fillStyle = '#000';
        ctx.fillText(it.text, a.left + it.tx, a.top + it.y + 1);
      });
      ctx.restore();
    }
  };
}

function buildPanel(p) {
  const [cl, ct, cw, ch] = p.box;
  const [pl, pt, pr, pb] = p.area;
  const cv = document.createElement('canvas');
  cv.width = cw; cv.height = ch;
  cv.style.cssText = 'position:absolute;left:' + cl + 'px;top:' + ct + 'px;width:' + cw + 'px;height:' + ch + 'px';
  document.getElementById('page').appendChild(cv);

  const tickFont = { family: FONT, size: 33 };
  const scales = {
    x: {
      type: 'linear', position: 'bottom', min: p.x[0], max: p.x[1],
      ticks: {
        stepSize: p.x[2], autoSkip: false, includeBounds: false, maxRotation: 0, minRotation: 0,
        padding: 16, color: '#000', font: tickFont,
        callback: v => isMajor(v, p.x[3]) ? String(v) : ''
      },
      grid: { display: false, drawTicks: false }, border: { display: false },
      afterFit: s => { s.height = ct + ch - pb; }
    },
    y: {
      type: 'linear', position: 'left', min: p.y[0], max: p.y[1],
      ticks: {
        stepSize: p.y[2], autoSkip: false, includeBounds: false,
        padding: 20, color: '#000', font: tickFont,
        callback: v => isMajor(v, p.y[3]) ? String(v) : ''
      },
      grid: { display: false, drawTicks: false }, border: { display: false },
      afterFit: s => { s.width = pl - cl; }
    }
  };
  if (p.top) {
    scales.x2 = {
      type: 'linear', position: 'top', axis: 'x', min: p.x[0], max: p.x[1],
      ticks: {
        stepSize: p.x[2], autoSkip: false, includeBounds: false, maxRotation: 0, minRotation: 0,
        padding: 9, color: '#000', font: { family: FONT, size: 25 },
        callback: v => isMajor(v, p.x[3]) ? String(1950 - v) : ''
      },
      grid: { display: false, drawTicks: false }, border: { display: false },
      afterFit: s => { s.height = pt - ct; }
    };
  }
  new Chart(cv, {
    type: 'scatter',
    data: { datasets: p.datasets },
    options: {
      responsive: false, animation: false, events: [],
      layout: { padding: { left: 0, right: cl + cw - pr, top: p.top ? 0 : pt - ct, bottom: 0 } },
      scales: scales,
      plugins: { legend: { display: false }, tooltip: { enabled: false } }
    },
    plugins: [deco(p)]
  });
}

const panels = [
  {
    box: [0, 0, 720, 520], area: [170, 88, 648, 406], top: true,
    x: [-65.2, 0, 5, 10], y: [1000, 2000, 100, 200], yTitleDx: -127, letter: ['A', 404, 107],
    datasets: [ds(aSpline, 'spline'), ds(aCmip6, 'cmip6'), ds(aNoaa, 'noaa'), ds(aSouthPole, 'pole'), ds(aLawDome, 'law'), ds(aBarrow, 'barrow')],
    legend: [
      { shape: 'circle', color: '#1a8a1a', x: 17, y: 204, tx: 30, text: 'NOAA (global mean)' },
      { shape: 'circle', color: '#33bbf0', x: 17, y: 235, tx: 30, text: 'NH Barrow' },
      { shape: 'circle', color: '#ee1111', x: 17, y: 265, tx: 30, text: 'SH South Pole' },
      { shape: 'circle', color: '#33e033', x: 17, y: 296, tx: 30, text: 'SH Law Dome' },
      { x1: 288, x2: 332, y: 160, color: '#1a1aee', dash: [6, 4], tx: 344, text: 'SH CMIP6' },
      { x1: 300, x2: 344, y: 296, color: '#000', tx: 356, text: 'SH spline' }
    ]
  },
  {
    box: [0, 470, 720, 470], area: [170, 512, 648, 831],
    x: [0, 2000, 250, 500], y: [600, 1200, 50, 100], yTitleDx: -127, letter: ['B', 402, 108],
    datasets: [ds(bSpline, 'spline'), ds(bCmip6, 'cmip6'), ds(bWdc, 'wdc'), ds(bLawDome, 'law'), ds(bGrip, 'grip')],
    legend: [
      { shape: 'diamond', color: '#2ee8ea', x: 17, y: 25, tx: 30, text: 'NH GRIP+ @GICC05+' },
      { shape: 'circle', color: '#33e033', x: 17, y: 56, tx: 30, text: 'SH Law Dome' },
      { shape: 'triangle', color: '#ff22ff', x: 17, y: 87, tx: 30, text: 'SH WDC @WD2014' },
      { x1: 288, x2: 332, y: 145, color: '#000', tx: 344, text: 'SH spline' },
      { x1: 288, x2: 332, y: 176, color: '#1a1aee', dash: [6, 4], tx: 344, text: 'SH CMIP6' }
    ]
  },
  {
    box: [0, 895, 720, 457], area: [170, 937, 648, 1256],
    x: [10000, 20000, 1250, 2500], y: [300, 800, 50, 100], yTitleDx: -109, letter: ['C', 401, 109],
    datasets: [ds(cSpline, 'spline'), ds(cWdc, 'wdc'), ds(cGrip, 'grip')],
    legend: [
      { shape: 'diamond', color: '#2ee8ea', x: 17, y: 266, tx: 30, text: 'NH GRIP+ @GICC05+' },
      { shape: 'triangle', color: '#ff22ff', x: 17, y: 296, tx: 30, text: 'SH WDC @WD2014' },
      { x1: 300, x2: 344, y: 296, color: '#000', tx: 356, text: 'SH spline' }
    ]
  },
  {
    box: [680, 0, 760, 520], area: [850, 88, 1328, 406],
    x: [0, 40000, 5000, 10000], y: [300, 800, 50, 100], yTitleDx: -109, letter: ['D', 71, 272],
    datasets: [ds(dSpline, 'spline'), ds(dWdc, 'wdc'), ds(dGrip, 'grip')],
    legend: [
      { shape: 'diamond', color: '#2ee8ea', x: 190, y: 24, tx: 202, text: 'NH GRIP+ @GICC05+' },
      { shape: 'triangle', color: '#ff22ff', x: 190, y: 54, tx: 202, text: 'SH WDC @WD2014' },
      { x1: 300, x2: 344, y: 296, color: '#000', tx: 356, text: 'SH spline' }
    ]
  },
  {
    box: [680, 470, 760, 470], area: [850, 512, 1328, 831],
    x: [40000, 90000, 10000, 20000], y: [300, 800, 50, 100], yTitleDx: -109, letter: ['E', 401, 108],
    datasets: [ds(eSpline, 'spline'), ds(eEdc, 'edc'), ds(eWdc, 'wdc'), ds(eGrip, 'grip')],
    legend: [
      { shape: 'diamond', color: '#2ee8ea', x: 17, y: 25, tx: 30, text: 'NH GRIP+ @GICC05+' },
      { shape: 'triangle', color: '#ff22ff', x: 17, y: 56, tx: 30, text: 'SH WDC @WD2014' },
      { shape: 'square', color: '#ffa41c', x: 17, y: 87, tx: 30, text: 'SH EDC @AICC2012' },
      { x1: 14, x2: 58, y: 297, color: '#000', tx: 70, text: 'SH spline' }
    ]
  },
  {
    box: [680, 895, 760, 457], area: [850, 937, 1328, 1256],
    x: [90000, 160000, 10000, 20000], y: [300, 800, 50, 100], yTitleDx: -109, letter: ['F', 404, 108],
    datasets: [ds(fSpline, 'spline'), ds(fEdc, 'edc'), ds(fGrip, 'grip')],
    legend: [
      { x1: 14, x2: 58, y: 24, color: '#000', tx: 70, text: 'SH spline' },
      { shape: 'diamond', color: '#2ee8ea', x: 17, y: 266, tx: 30, text: 'NH GRIP+ @GICC05+' },
      { shape: 'square', color: '#ffa41c', x: 17, y: 296, tx: 30, text: 'SH EDC @AICC2012' }
    ]
  }
];

panels.forEach(buildPanel);
</script>
</body>
</html>
